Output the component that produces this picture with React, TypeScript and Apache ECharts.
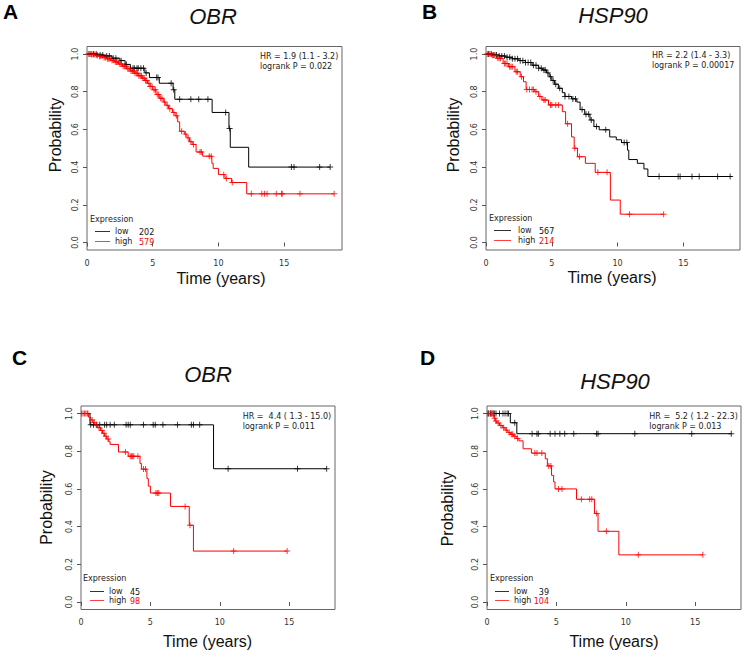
import React, { useEffect, useRef } from "react";
import * as echarts from "echarts";

// ---------- Data ----------
const panelLetters = ["A", "B", "C", "D"];
const panelTitles = ["OBR", "HSP90", "OBR", "HSP90"];
const hrTexts = ["HR = 1.9 (1.1 - 3.2)", "HR = 2.2 (1.4 - 3.3)", "HR =  4.4 ( 1.3 - 15.0)", "HR =  5.2 ( 1.2 - 22.3)"];
const logrankTexts = ["logrank P = 0.022", "logrank P = 0.00017", "logrank P = 0.011", "logrank P = 0.013"];
const lowN = ["202", "567", "45", "39"];
const highN = ["579", "214", "98", "104"];
const xTicks = [0, 5, 10, 15];
const yTicks = [0, 0.2, 0.4, 0.6, 0.8, 1.0];

// Panel A
const aLowT = [0, 0.8, 1.3, 1.9, 2.5, 2.9, 3.3, 4.4, 4.75, 5.5, 6.55, 6.68, 9.52, 10.8, 10.9, 12.3];
const aLowS = [1.0, 0.995, 0.99, 0.978, 0.965, 0.945, 0.925, 0.9, 0.875, 0.845, 0.81, 0.76, 0.69, 0.605, 0.505, 0.4];
const aLowEnd = 18.5;
const aLowCens = [0.3, 0.5, 0.7, 1.0, 1.2, 1.5, 1.7, 2.0, 2.2, 2.6, 3.0, 3.5, 3.6, 3.8, 3.9, 4.1, 4.3, 4.5, 5.3, 5.4, 6.4, 6.6, 7.05, 7.9, 8.5, 9.2, 10.55, 10.85, 15.55, 15.75, 17.7, 18.5];
const aHighT = [0, 0.3, 0.6, 0.9, 1.2, 1.5, 1.8, 2.1, 2.4, 2.7, 3.0, 3.3, 3.6, 3.9, 4.2, 4.4, 4.6, 4.8, 5.0, 5.25, 5.5, 5.8, 6.0, 6.2, 6.5, 6.7, 6.9, 7.05, 7.4, 7.6, 7.8, 8.0, 8.3, 8.8, 9.5, 9.6, 10.0, 10.5, 11.0, 12.15];
const aHighS = [1.0, 0.997, 0.993, 0.988, 0.982, 0.975, 0.967, 0.958, 0.947, 0.935, 0.922, 0.91, 0.898, 0.885, 0.872, 0.86, 0.845, 0.828, 0.81, 0.785, 0.765, 0.745, 0.728, 0.71, 0.69, 0.672, 0.64, 0.59, 0.575, 0.555, 0.535, 0.52, 0.48, 0.458, 0.42, 0.393, 0.36, 0.34, 0.318, 0.258];
const aHighEnd = 18.8;
const aHighCens = [0.1, 0.2, 0.35, 0.45, 0.55, 0.7, 0.8, 0.95, 1.05, 1.15, 1.3, 1.4, 1.55, 1.65, 1.75, 1.9, 2.0, 2.15, 2.25, 2.35, 2.5, 2.6, 2.75, 2.85, 2.95, 3.1, 3.2, 3.35, 3.45, 3.55, 3.65, 3.75, 3.85, 3.95, 4.05, 4.15, 4.25, 4.35, 4.45, 4.55, 4.7, 4.8, 4.95, 5.1, 5.2, 5.35, 5.45, 5.6, 5.7, 5.9, 6.1, 6.3, 6.6, 6.8, 7.2, 7.5, 7.7, 7.9, 8.1, 8.6, 8.7, 9.3, 9.45, 10.4, 10.6, 11.05, 12.5, 13.3, 13.5, 13.7, 14.4, 14.8, 14.85, 16.2, 18.8];

// Panel B
const bLowT = [0, 0.5, 1.0, 1.5, 2.0, 2.5, 3.0, 3.5, 4.0, 4.3, 4.6, 4.8, 5.0, 5.2, 5.5, 5.8, 6.0, 6.5, 6.9, 7.15, 7.5, 7.9, 8.2, 8.6, 9.4, 9.9, 10.3, 10.75, 10.85, 11.5, 12.0, 12.3];
const bLowS = [1.0, 0.995, 0.99, 0.983, 0.975, 0.965, 0.955, 0.94, 0.925, 0.915, 0.9, 0.88, 0.86, 0.84, 0.818, 0.795, 0.775, 0.762, 0.745, 0.705, 0.68, 0.65, 0.615, 0.598, 0.56, 0.545, 0.53, 0.49, 0.44, 0.42, 0.39, 0.35];
const bLowEnd = 18.7;
const bLowCens = [0.2, 0.4, 0.6, 0.8, 1.0, 1.2, 1.4, 1.6, 1.8, 2.0, 2.2, 2.4, 2.6, 2.8, 3.0, 3.2, 3.4, 3.6, 3.8, 4.0, 4.2, 4.4, 4.5, 4.7, 4.9, 5.1, 5.3, 5.6, 6.0, 6.3, 6.6, 6.8, 7.3, 7.6, 7.8, 8.0, 8.4, 9.1, 10.5, 10.7, 13.15, 14.6, 14.75, 15.65, 16.2, 17.6, 18.55];
const bHighT = [0, 0.45, 0.85, 1.3, 1.7, 2.2, 2.6, 2.85, 3.05, 3.7, 4.0, 4.25, 4.75, 5.8, 6.05, 6.5, 6.7, 6.95, 7.55, 8.3, 9.45, 10.2];
const bHighS = [1.0, 0.993, 0.977, 0.95, 0.933, 0.906, 0.88, 0.853, 0.812, 0.8, 0.775, 0.756, 0.73, 0.694, 0.63, 0.56, 0.5, 0.455, 0.42, 0.372, 0.225, 0.15];
const bHighEnd = 13.5;
const bHighCens = [0.1, 0.2, 0.3, 0.5, 0.6, 0.7, 0.9, 1.0, 1.1, 1.4, 1.5, 1.6, 1.8, 1.9, 2.0, 2.3, 2.4, 2.7, 3.1, 3.3, 3.5, 3.6, 3.8, 4.1, 4.4, 4.5, 4.9, 5.0, 5.3, 5.5, 6.2, 6.75, 7.1, 8.5, 9.2, 10.9, 13.5];

// Panel C
const cLowT = [0, 0.65, 9.55];
const cLowS = [1.0, 0.94, 0.707];
const cLowEnd = 17.7;
const cLowCens = [0.7, 0.9, 1.1, 1.35, 1.7, 1.85, 2.1, 2.4, 3.25, 3.4, 3.55, 4.5, 5.2, 5.35, 5.9, 6.95, 7.95, 8.1, 8.55, 10.6, 15.6, 17.7];
const cHighT = [0, 0.55, 0.7, 0.85, 1.0, 1.2, 1.4, 1.55, 1.7, 1.85, 2.0, 2.1, 2.7, 3.4, 4.25, 4.35, 4.75, 4.85, 5.0, 6.45, 7.8, 8.1];
const cHighS = [1.0, 0.98, 0.966, 0.953, 0.94, 0.925, 0.91, 0.895, 0.88, 0.865, 0.85, 0.836, 0.796, 0.773, 0.735, 0.705, 0.655, 0.615, 0.578, 0.507, 0.407, 0.27];
const cHighEnd = 14.85;
const cHighCens = [0.05, 0.15, 0.25, 0.35, 0.45, 0.5, 0.8, 0.95, 1.15, 1.3, 1.5, 1.65, 1.8, 1.95, 3.2, 3.55, 3.65, 3.7, 3.8, 4.1, 4.5, 4.65, 5.4, 5.5, 5.6, 7.5, 7.85, 11.0, 14.85];

// Panel D
const dLowT = [0, 1.68, 2.15];
const dLowS = [1.0, 0.951, 0.893];
const dLowEnd = 17.6;
const dLowCens = [0.1, 0.25, 0.35, 0.45, 0.55, 0.65, 0.9, 1.15, 1.3, 1.45, 1.55, 2.0, 3.25, 3.6, 3.7, 4.55, 4.9, 5.25, 5.6, 6.25, 7.9, 8.0, 10.65, 14.75, 17.6];
const dHighT = [0, 0.5, 0.6, 0.7, 0.9, 1.1, 1.3, 1.5, 1.7, 1.9, 2.1, 2.3, 2.6, 3.2, 4.2, 4.35, 4.65, 4.8, 4.9, 6.45, 7.75, 8.0, 9.5];
const dHighS = [1.0, 0.975, 0.96, 0.95, 0.937, 0.925, 0.912, 0.9, 0.89, 0.88, 0.868, 0.855, 0.813, 0.79, 0.76, 0.722, 0.672, 0.637, 0.6, 0.545, 0.47, 0.375, 0.25];
const dHighEnd = 15.55;
const dHighCens = [0.05, 0.15, 0.25, 0.35, 0.45, 0.55, 0.65, 0.8, 1.0, 1.2, 1.4, 1.6, 1.75, 1.85, 2.0, 2.2, 3.45, 3.6, 3.95, 4.45, 4.6, 5.15, 5.4, 6.8, 7.4, 7.55, 7.9, 8.6, 10.9, 15.55];

const curves = [
  { low: [aLowT, aLowS, aLowEnd, aLowCens], high: [aHighT, aHighS, aHighEnd, aHighCens] },
  { low: [bLowT, bLowS, bLowEnd, bLowCens], high: [bHighT, bHighS, bHighEnd, bHighCens] },
  { low: [cLowT, cLowS, cLowEnd, cLowCens], high: [cHighT, cHighS, cHighEnd, cHighCens] },
  { low: [dLowT, dLowS, dLowEnd, dLowCens], high: [dHighT, dHighS, dHighEnd, dHighCens] },
] as any[];

// ---------- Layout ----------
const layouts = [
  { grid: { left: 87, top: 46.5, width: 255, height: 203.5 }, xMax: 19.4, letter: [3, 11], title: [213, 16], prob: [55, 135], time: [221, 278], hr: [260, 56.5, 66], leg: { x: 90, y: 219, l1: 95, l2: 110, tx: 115, nx: 139, nAlign: "left", yLow: 231.5, yHigh: 241.5 } },
  { grid: { left: 486, top: 46.5, width: 254, height: 203.5 }, xMax: 19.3, letter: [422, 11], title: [613, 15.5], prob: [453, 135], time: [612, 277], hr: [652, 55.5, 65.5], leg: { x: 489, y: 218.5, l1: 494, l2: 511, tx: 518, nx: 539, nAlign: "left", yLow: 230.5, yHigh: 240.5 } },
  { grid: { left: 81, top: 406, width: 254, height: 203.5 }, xMax: 18.3, letter: [12, 357.5], title: [208, 374.7], prob: [46, 507.5], time: [207.5, 641], hr: [242.7, 416.7, 426], leg: { x: 83, y: 578.5, l1: 90, l2: 104, tx: 109, nx: 130, nAlign: "left", yLow: 591.5, yHigh: 600.5 } },
  { grid: { left: 487, top: 406, width: 254, height: 203.5 }, xMax: 18.3, letter: [420, 357.5], title: [615, 381], prob: [447, 509], time: [614, 641], hr: [649.3, 416.7, 426], leg: { x: 490, y: 578.5, l1: 495, l2: 509, tx: 514, nx: 549, nAlign: "right", yLow: 591.5, yHigh: 600.5 } },
];

const CROSS = "path://M0,4.2H10V5.8H0Z M4.2,0H5.8V10H4.2Z";
const BLACK = "#000000";
const RED = "#ff0000";
const SMALL_FONT = "'DejaVu Sans', sans-serif";
const BIG_FONT = "'Liberation Sans', Arial, sans-serif";

function stepAt(times: number[], surv: number[], t: number) {
  let v = surv[0];
  for (let i = 0; i < times.length; i++) if (times[i] <= t) v = surv[i];
  return v;
}

function buildOption() {
  const grid: any[] = [];
  const xAxis: any[] = [];
  const yAxis: any[] = [];
  const series: any[] = [];
  const graphic: any[] = [];

  layouts.forEach((L, i) => {
    grid.push({
      ...L.grid,
      show: true,
      borderColor: "#666",
      borderWidth: 1,
      backgroundColor: "transparent",
      containLabel: false,
      outerBoundsMode: "none",
    });
    xAxis.push({
      type: "value",
      gridIndex: i,
      min: 0,
      max: L.xMax,
      axisLine: { show: false },
      axisTick: { show: true, length: 4, customValues: xTicks, lineStyle: { color: "#555", width: 1 } },
      axisLabel: { customValues: xTicks, fontSize: 8, fontFamily: SMALL_FONT, color: "#333", margin: 9 },
      splitLine: { show: false },
    });
    yAxis.push({
      type: "value",
      gridIndex: i,
      min: -0.04,
      max: 1.04,
      axisLine: { show: false },
      axisTick: { show: true, length: 4, customValues: yTicks, lineStyle: { color: "#555", width: 1 } },
      axisLabel: {
        customValues: yTicks,
        rotate: 90,
        fontSize: 8,
        fontFamily: SMALL_FONT,
        color: "#333",
        margin: 8,
        formatter: (v: number) => v.toFixed(1),
      },
      splitLine: { show: false },
    });

    const c = curves[i];
    const groups: any[] = [
      { cv: c.low, color: BLACK },
      { cv: c.high, color: RED },
    ];
    groups.forEach(({ cv, color }) => {
      const [T, S, end, cens] = cv;
      const pts = T.map((t: number, k: number) => [t, S[k]]);
      pts.push([end, S[S.length - 1]]);
      series.push({
        type: "line",
        xAxisIndex: i,
        yAxisIndex: i,
        step: "end",
        data: pts,
        symbol: "none",
        silent: true,
        lineStyle: { color, width: 1 },
      });
      series.push({
        type: "scatter",
        xAxisIndex: i,
        yAxisIndex: i,
        data: cens.map((t: number) => [t, stepAt(T, S, t)]),
        symbol: CROSS,
        symbolSize: 6,
        silent: true,
        itemStyle: { color },
      });
    });

    graphic.push({
      type: "text",
      x: L.letter[0],
      y: L.letter[1],
      style: { text: panelLetters[i], fontSize: 21, fontWeight: "bold", fontFamily: BIG_FONT, fill: "#000", align: "left", verticalAlign: "middle" },
    });
    graphic.push({
      type: "text",
      x: L.title[0],
      y: L.title[1],
      style: { text: panelTitles[i], fontSize: 22, fontStyle: "italic", fontFamily: BIG_FONT, fill: "#111", align: "center", verticalAlign: "middle" },
    });
    graphic.push({
      type: "text",
      x: L.prob[0],
      y: L.prob[1],
      rotation: Math.PI / 2,
      style: { text: "Probability", fontSize: 16, fontFamily: BIG_FONT, fill: "#111", align: "center", verticalAlign: "middle" },
    });
    graphic.push({
      type: "text",
      x: L.time[0],
      y: L.time[1],
      style: { text: "Time (years)", fontSize: 16, fontFamily: BIG_FONT, fill: "#111", align: "center", verticalAlign: "middle" },
    });
    graphic.push({
      type: "text",
      x: L.hr[0],
      y: L.hr[1],
      style: { text: hrTexts[i], fontSize: 8, fontFamily: SMALL_FONT, fill: "#222", align: "left", verticalAlign: "middle" },
    });
    graphic.push({
      type: "text",
      x: L.hr[0],
      y: L.hr[2],
      style: { text: logrankTexts[i], fontSize: 8, fontFamily: SMALL_FONT, fill: "#222", align: "left", verticalAlign: "middle" },
    });
    const g = L.leg;
    graphic.push({
      type: "text",
      x: g.x,
      y: g.y,
      style: { text: "Expression", fontSize: 8, fontFamily: SMALL_FONT, fill: "#222", align: "left", verticalAlign: "middle" },
    });
    const rows: any[] = [
      { lab: "low", n: lowN[i], stroke: "#333333", nFill: "#111111", yy: g.yLow },
      { lab: "high", n: highN[i], stroke: "#ff4040", nFill: RED, yy: g.yHigh },
    ];
    rows.forEach((r) => {
      graphic.push({
        type: "line",
        shape: { x1: g.l1, y1: r.yy, x2: g.l2, y2: r.yy },
        style: { stroke: r.stroke, lineWidth: 1 },
      });
      graphic.push({
        type: "text",
        x: g.tx,
        y: r.yy,
        style: { text: r.lab, fontSize: 8, fontFamily: SMALL_FONT, fill: "#222", align: "left", verticalAlign: "middle" },
      });
      graphic.push({
        type: "text",
        x: g.nx,
        y: r.yy + 1,
        style: { text: r.n, fontSize: 8, fontFamily: SMALL_FONT, fill: r.nFill, align: g.nAlign, verticalAlign: "middle" },
      });
    });
  });

  return {
    animation: false,
    backgroundColor: "#ffffff",
    grid,
    xAxis,
    yAxis,
    series,
    graphic,
  };
}

export default function App() {
  const ref = useRef<HTMLDivElement>(null);
  useEffect(() => {
    if (!ref.current) return;
    const chart = echarts.init(ref.current, undefined, { renderer: "svg" });
    chart.setOption(buildOption() as any);
    return () => chart.dispose();
  }, []);
  return <div ref={ref} style={{ position: "absolute", left: 0, top: 0, width: 744, height: 657 }} />;
}
